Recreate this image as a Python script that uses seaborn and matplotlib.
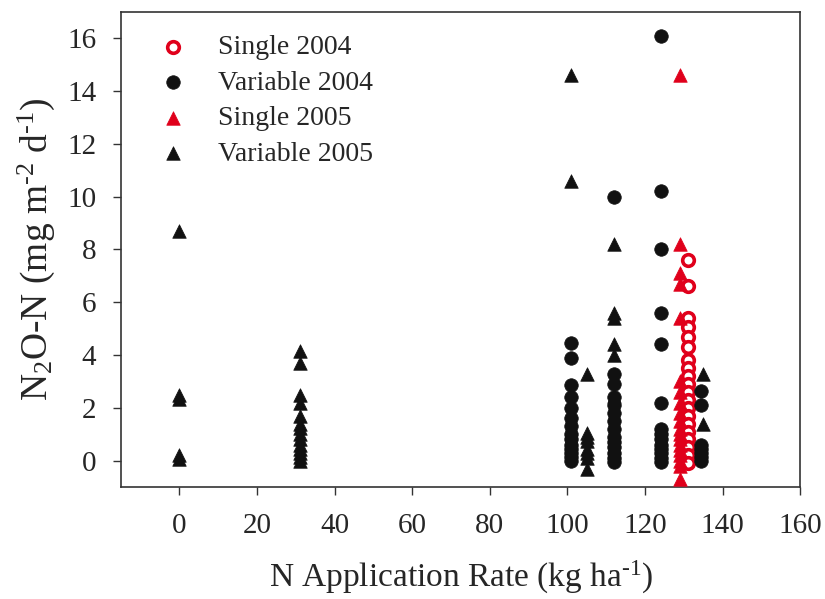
import numpy as np
import pandas as pd
import matplotlib
matplotlib.use("Agg")
import matplotlib.pyplot as plt
import seaborn as sns

# ---- data ----
single04_x = [131] * 20
single04_y = [7.6, 6.6, 5.4, 5.05, 4.7, 4.3, 3.8, 3.5, 3.2, 2.9, 2.6, 2.3, 2.0,
              1.7, 1.4, 1.1, 0.8, 0.5, 0.2, -0.1]

var04_x = [101] * 14 + [112] * 14 + [124] * 14 + [134.5] * 7
var04_y = [4.45, 3.9, 2.85, 2.4, 2.0, 1.6, 1.3, 1.0, 0.8, 0.6, 0.45, 0.3, 0.15, 0.0,
           10.0, 3.3, 2.9, 2.4, 2.1, 1.8, 1.5, 1.2, 0.9, 0.7, 0.5, 0.3, 0.1, -0.05,
           16.1, 10.2, 8.0, 5.6, 4.4, 2.2, 1.2, 1.0, 0.8, 0.6, 0.45, 0.3, 0.1, -0.05,
           2.65, 2.1, 0.6, 0.45, 0.3, 0.15, 0.0]

single05_x = [129] * 19
single05_y = [14.6, 8.2, 7.1, 6.7, 5.4, 3.0, 2.6, 2.2, 1.8, 1.5, 1.2, 1.0, 0.8,
              0.6, 0.4, 0.2, 0.0, -0.2, -0.7]

var05_x = [0] * 5 + [31] * 14 + [101] * 2 + [105] * 8 + [112] * 6 + [135] * 2
var05_y = [8.7, 2.5, 2.35, 0.2, 0.05,
           4.15, 3.7, 2.5, 2.2, 1.7, 1.4, 1.25, 1.0, 0.8, 0.6, 0.45, 0.3, 0.15, 0.0,
           14.6, 10.6,
           3.3, 1.05, 0.9, 0.75, 0.45, 0.3, 0.1, -0.3,
           8.2, 5.6, 5.4, 4.4, 4.0, 2.45,
           3.3, 1.4]

x_ticks = [0, 20, 40, 60, 80, 100, 120, 140, 160]
y_ticks = [0, 2, 4, 6, 8, 10, 12, 14, 16]

RED = "#e0001b"
BLACK = "#111111"

sns.set_style("white")
plt.rcParams["font.family"] = ["Liberation Serif", "DejaVu Serif"]
plt.rcParams["mathtext.fontset"] = "custom"
plt.rcParams["mathtext.rm"] = "Liberation Serif"
plt.rcParams["mathtext.it"] = "Liberation Serif:italic"

fig = plt.figure(figsize=(8.25, 5.99), dpi=100)
ax = fig.add_axes([0.147, 0.187, 0.823, 0.793])

sns.scatterplot(x=single04_x, y=single04_y, ax=ax, marker="o", s=70,
                facecolors="white", edgecolor=RED, linewidth=2.6,
                label="Single 2004", zorder=3)
sns.scatterplot(x=var04_x, y=var04_y, ax=ax, marker="o", s=95,
                color=BLACK, edgecolor=BLACK, linewidth=0.5,
                label="Variable 2004", zorder=3)
sns.scatterplot(x=single05_x, y=single05_y, ax=ax, marker="^", s=95,
                color=RED, edgecolor=RED, linewidth=0.5,
                label="Single 2005", zorder=3)
sns.scatterplot(x=var05_x, y=var05_y, ax=ax, marker="^", s=95,
                color=BLACK, edgecolor=BLACK, linewidth=0.5,
                label="Variable 2005", zorder=3)

ax.set_xlim(-15, 160)
ax.set_ylim(-1.0, 17.0)
ax.set_xticks(x_ticks)
ax.set_yticks(y_ticks)
ax.tick_params(axis="both", direction="out", length=6, width=1.0,
               color="#333333", labelsize=21)
ax.tick_params(axis="y", pad=12)
ax.tick_params(axis="x", pad=13)
ax.tick_params(top=False, right=False)
ax.xaxis.set_ticks_position("bottom")
ax.yaxis.set_ticks_position("left")
for sp in ax.spines.values():
    sp.set_color("#333333")
    sp.set_linewidth(1.2)

HY = "\u2010"
ax.set_xlabel("N Application Rate (kg ha$^{\\mathregular{" + HY + "1}}$)", fontsize=24, labelpad=14)
ax.set_ylabel("N$_{\\mathregular{2}}$O-N (mg m$^{\\mathregular{" + HY + "2}}$ d$^{\\mathregular{" + HY + "1}}$)",
              fontsize=27, labelpad=7)

leg = ax.legend(loc="upper left", bbox_to_anchor=(0.056, 0.952), frameon=False,
                fontsize=20, handlelength=1.0, handletextpad=1.1, labelspacing=0.36,
                borderaxespad=0.0, borderpad=0.0, markerscale=1.0)

fig.savefig("out.png", dpi=100)
